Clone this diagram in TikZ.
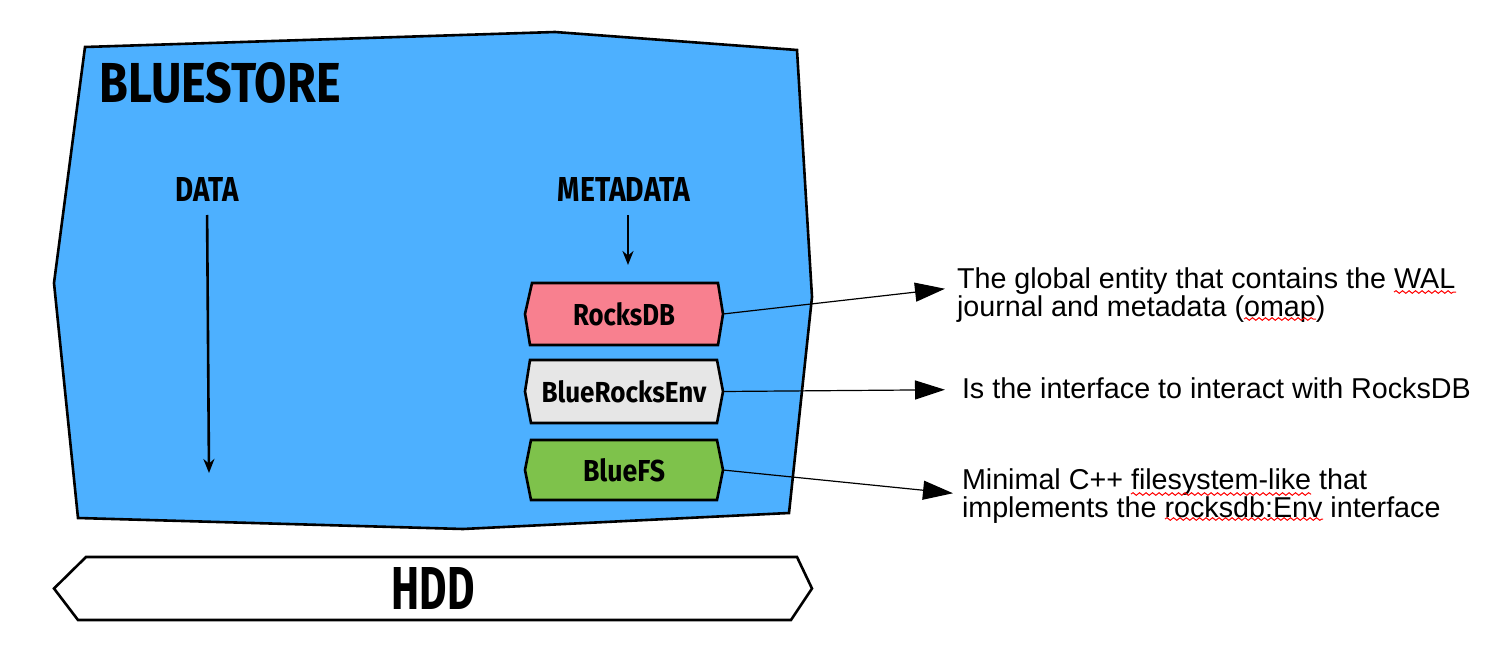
\documentclass[tikz,border=0pt]{standalone}
\usepackage{fontspec}
\usepackage{graphicx}
\setmainfont{Liberation Sans}
\newfontfamily\hand{Fira Sans}
\usetikzlibrary{arrows.meta,backgrounds,decorations.pathmorphing}
\definecolor{bluefill}{HTML}{4DB0FF}
\definecolor{pinkfill}{HTML}{F8808F}
\definecolor{greyfill}{HTML}{E6E6E6}
\definecolor{greenfill}{HTML}{7EC24B}
\newcommand\fitlabel[3]{\resizebox{#1pt}{#2pt}{\hand\bfseries #3}}
\newcommand\hexbg[6]{%
  \begin{scope}[on background layer]
    \draw[hexline, fill=#2] (#1.west) -- ([xshift=#3pt]#1.north west) -- ([xshift=-#4pt]#1.north east) -- (#1.east) -- ([xshift=-#5pt]#1.south east) -- ([xshift=#6pt]#1.south west) -- cycle;
  \end{scope}}
\tikzset{
  hexline/.style={draw=black, line width=2.6pt, line join=miter},
  hexnode/.style={inner sep=0pt, outer sep=0pt, minimum width=198pt},
  handlabel/.style={inner sep=0pt, outer sep=0pt},
  conn/.style={line width=1.2pt, -{Triangle[length=30pt,width=19pt]}},
  flow/.style={line width=2.6pt, -{Stealth[length=14pt,width=11pt]}},
  note/.style={font=\fontsize{28.7}{26.5}\selectfont, align=left, inner ysep=0pt, outer sep=0pt},
  squig/.style={red, line width=1pt, decorate, decoration={snake, amplitude=1.3pt, segment length=6.5pt}},
}
\begin{document}
\begin{tikzpicture}[x=1pt,y=-1pt]
\useasboundingbox (0,0) rectangle (1512,655);
% container
\begin{scope}[on background layer]
  \draw[hexline, fill=bluefill] (85,47) -- (555,32) -- (797,50) -- (812,297) -- (789,513) -- (463,529) -- (78,518) -- (54,283) -- cycle;
\end{scope}
% labels
\node[handlabel] (bluestore) at (220,83) {\fitlabel{241}{40}{BLUESTORE}};
\node[handlabel] (data) at (207,190) {\fitlabel{63}{24}{DATA}};
\node[handlabel] (meta) at (624,190) {\fitlabel{132}{24}{METADATA}};
% boxes
\node[hexnode, minimum height=62pt] (rocks) at (624,314) {\fitlabel{102}{23}{RocksDB}};
\hexbg{rocks}{pinkfill}{7}{5}{5}{5}
\node[hexnode, minimum height=63pt] (env) at (624,391.5) {\fitlabel{165}{22}{BlueRocksEnv}};
\hexbg{env}{greyfill}{5}{6}{6}{6}
\node[hexnode, minimum height=60pt] (bluefs) at (624,470) {\fitlabel{82}{23}{BlueFS}};
\hexbg{bluefs}{greenfill}{6}{6}{6}{6}
\node[inner sep=0pt, outer sep=0pt, minimum width=758pt, minimum height=63pt] (hdd) at (433,588.5) {\fitlabel{83}{42}{HDD}};
\hexbg{hdd}{white}{32}{15}{21}{24}
% flows
\coordinate (dataend) at (209,473);
\draw[flow, shorten <=13pt] (data.south) -- (dataend);
\draw[flow, shorten <=13pt, shorten >=18pt] ([xshift=4pt]meta.south) -- ([xshift=4pt]rocks.north);
% notes
\node[note, anchor=north west, inner xsep=12pt] (t1) at (945,267.5) {The global entity that contains the WAL\\journal and metadata (omap)};
\node[note, anchor=base west, inner xsep=17pt] (t2) at (945,398) {Is the interface to interact with RocksDB};
\node[note, anchor=north west, inner xsep=9pt] (t3) at (953,469) {Minimal C++ filesystem-like that\\implements the rocksdb:Env interface};
\draw[conn] (rocks.east) -- ([yshift=6pt]t1.west);
\draw[conn] (env.east) -- ([yshift=-2pt]t2.west);
\draw[conn] (bluefs.east) -- ([yshift=3pt]t3.west);
% spell-check marks
\draw[squig] (1394,292) -- (1456,292);
\draw[squig] (1244,319) -- (1316,319);
\draw[squig] (1131,494) -- (1311,494);
\draw[squig] (1165,519) -- (1323,519);
\end{tikzpicture}
\end{document}
